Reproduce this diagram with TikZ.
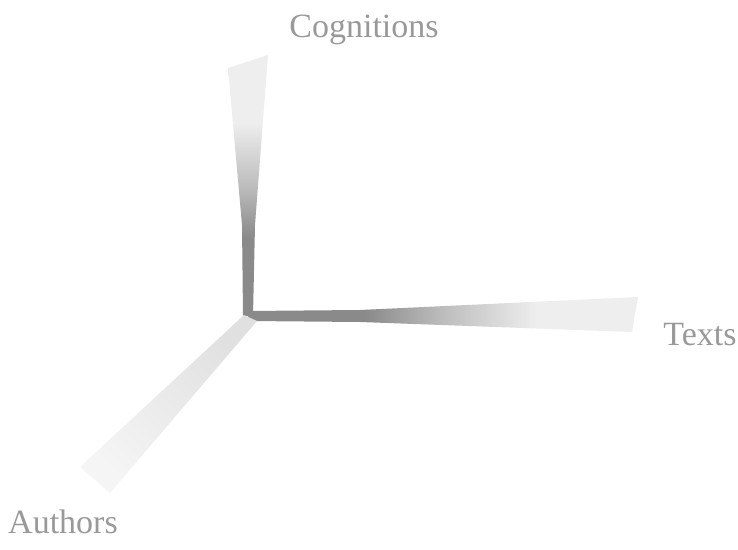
\documentclass[tikz,border=0pt]{standalone}
\usepackage{fontspec}
\setmainfont{Liberation Serif}
\usepackage{tikz}
\usetikzlibrary{positioning, calc}
\usepackage{xcolor}
\definecolor{labelgray}{HTML}{999999}
\definecolor{axisdark}{HTML}{8A8A8A}
\definecolor{axismid}{HTML}{BDBDBD}
\definecolor{axisfaint}{HTML}{EEEEEE}
\definecolor{axispale}{HTML}{E0E0E0}
\definecolor{axisghost}{HTML}{F5F5F5}
\pgfdeclarehorizontalshading{darkFade}{100bp}{color(0bp)=(axisdark); color(25bp)=(axisdark); color(40bp)=(axisdark); color(50bp)=(axismid); color(62bp)=(axisfaint); color(75bp)=(axisfaint); color(100bp)=(axisfaint)}
\pgfdeclarehorizontalshading{paleFade}{100bp}{color(0bp)=(axispale); color(25bp)=(axispale); color(75bp)=(axisghost); color(100bp)=(axisghost)}

\begin{document}
\begin{tikzpicture}[
  x=1pt, y=1pt,
  darkAxis/.style={shading=darkFade, draw=none},
  paleAxis/.style={shading=paleFade, draw=none},
  axisLabel/.style={font=\rmfamily\fontsize{34}{40}\selectfont, text=labelgray, anchor=base, inner sep=0pt}
]
\useasboundingbox (0,0) rectangle (738,549);

% Origin and axis ends
\coordinate (origin) at (248,233);
\coordinate (cogEnd) at (248,488);
\coordinate (textEnd) at (636,232);
\coordinate (authEnd) at (95,69);

% Axes as widening bands
\shade[darkAxis, shading angle=90] (243,233) -- (253,233) -- (255,324) -- (268,494) -- (228,481) -- (242,324) -- cycle;
\shade[darkAxis, shading angle=0] (248,238) -- (360,239) -- (638,252) -- (632,217) -- (360,227) -- (248,228) -- cycle;
\shade[paleAxis, shading angle=225] (244,234) -- (257,228) -- (110,56) -- (80,82) -- cycle;

% Labels
\node[axisLabel] (cognitions) at (364,511) {Cognitions};
\node[axisLabel] (texts) at (700,204) {Texts};
\node[axisLabel] (authors) at (63,16) {Authors};

\end{tikzpicture}
\end{document}
